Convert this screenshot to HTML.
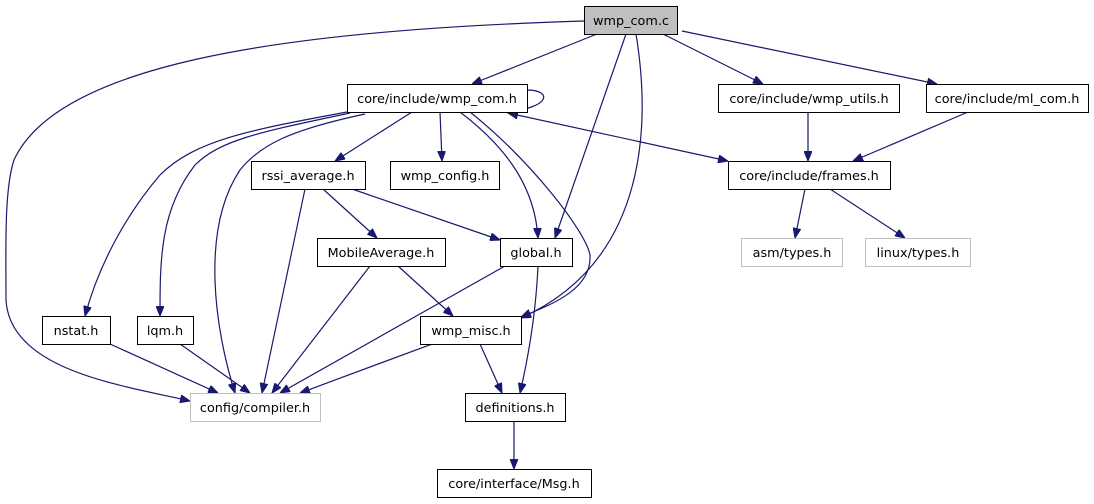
<!DOCTYPE html>
<html><head><meta charset="utf-8"><style>
html,body{margin:0;padding:0;background:#fff;}
svg{display:block;}
text{font-family:"DejaVu Sans","Liberation Sans",sans-serif;font-size:12.8px;fill:#000;}
</style></head><body>
<svg width="1094" height="504" viewBox="0 0 1094 504" xmlns="http://www.w3.org/2000/svg">
<defs>
<marker id="a" viewBox="0 0 10 8" refX="10" refY="4" markerWidth="10" markerHeight="8" markerUnits="userSpaceOnUse" orient="auto">
<path d="M0,0 L10,4 L0,8 z" fill="#191970" stroke="#191970"/>
</marker>
<marker id="s" viewBox="0 0 10 8" refX="0" refY="4" markerWidth="10" markerHeight="8" markerUnits="userSpaceOnUse" orient="auto">
<path d="M10,0 L0,4 L10,8 z" fill="#191970" stroke="#191970"/>
</marker>
</defs>
<g fill="none" stroke="#191970" stroke-width="1.2" marker-end="url(#a)">
<path d="M597,34 L472,84"/>
<path d="M584,21 C300,30 60,60 14,160 C4,190 6,250 6,300 C10,370 120,385 190,401"/>
<path d="M626,34 L555,238"/>
<path d="M636,34 C650,120 650,260 521,318"/>
<path d="M663,34 L763,84"/>
<path d="M682,31 L937,84"/>
<path d="M527,90 C552,90 552,108 505,112"/>
<path d="M508,113 L728,161" marker-start="url(#s)"/>
<path d="M412,112 L335,161"/>
<path d="M440,112 L442,161"/>
<path d="M460,112 C510,150 535,190 538,238"/>
<path d="M470,112 C530,160 585,230 590,255 C592,290 550,305 521,317"/>
<path d="M347,112 C250,130 195,140 160,175 C130,210 100,260 85,316"/>
<path d="M350,113 C260,132 220,140 195,165 C160,210 160,260 160,316"/>
<path d="M365,114 C290,130 260,145 240,170 C200,230 215,330 235,393"/>
<path d="M323,189 L377,238"/>
<path d="M352,189 L500,240"/>
<path d="M305,189 L262,393"/>
<path d="M370,266 L272,393"/>
<path d="M398,266 L453,316"/>
<path d="M505,266 L280,393"/>
<path d="M538,266 C536,310 530,350 520,393"/>
<path d="M432,344 L300,393"/>
<path d="M480,344 L502,393"/>
<path d="M110,344 L218,393"/>
<path d="M180,344 L250,393"/>
<path d="M808,112 L808,161"/>
<path d="M968,112 L853,161"/>
<path d="M805,189 L795,238"/>
<path d="M830,189 L905,238"/>
<path d="M514,421 L514,469"/>
</g>
<g stroke-width="1" shape-rendering="crispEdges">
<rect x="584.5" y="6.5" width="93" height="28" fill="#bfbfbf" stroke="#000"/>
<rect x="347.5" y="84.5" width="180" height="28" fill="#fff" stroke="#000"/>
<rect x="718.5" y="84.5" width="181" height="28" fill="#fff" stroke="#000"/>
<rect x="926.5" y="84.5" width="162" height="28" fill="#fff" stroke="#000"/>
<rect x="251.5" y="161.5" width="114" height="28" fill="#fff" stroke="#000"/>
<rect x="390.5" y="161.5" width="109" height="28" fill="#fff" stroke="#000"/>
<rect x="728.5" y="161.5" width="162" height="28" fill="#fff" stroke="#000"/>
<rect x="317.5" y="238.5" width="128" height="28" fill="#fff" stroke="#000"/>
<rect x="500.5" y="238.5" width="72" height="28" fill="#fff" stroke="#000"/>
<rect x="741.5" y="238.5" width="101" height="28" fill="#fff" stroke="#bfbfbf"/>
<rect x="865.5" y="238.5" width="105" height="28" fill="#fff" stroke="#bfbfbf"/>
<rect x="42.5" y="316.5" width="68" height="28" fill="#fff" stroke="#000"/>
<rect x="137.5" y="316.5" width="56" height="28" fill="#fff" stroke="#000"/>
<rect x="420.5" y="316.5" width="101" height="28" fill="#fff" stroke="#000"/>
<rect x="190.5" y="393.5" width="130" height="28" fill="#fff" stroke="#bfbfbf"/>
<rect x="465.5" y="393.5" width="100" height="28" fill="#fff" stroke="#000"/>
<rect x="437.5" y="469.5" width="154" height="28" fill="#fff" stroke="#000"/>
</g>
<g text-anchor="middle">
<text x="631" y="25">wmp_com.c</text>
<text x="437" y="103">core/include/wmp_com.h</text>
<text x="809" y="103">core/include/wmp_utils.h</text>
<text x="1007" y="103">core/include/ml_com.h</text>
<text x="308" y="180">rssi_average.h</text>
<text x="445" y="180">wmp_config.h</text>
<text x="809" y="180">core/include/frames.h</text>
<text x="381" y="257">MobileAverage.h</text>
<text x="536" y="257">global.h</text>
<text x="792" y="257">asm/types.h</text>
<text x="918" y="257">linux/types.h</text>
<text x="76" y="335">nstat.h</text>
<text x="165" y="335">lqm.h</text>
<text x="471" y="335">wmp_misc.h</text>
<text x="255" y="412">config/compiler.h</text>
<text x="515" y="412">definitions.h</text>
<text x="514" y="488">core/interface/Msg.h</text>
</g>
</svg>
</body></html>
